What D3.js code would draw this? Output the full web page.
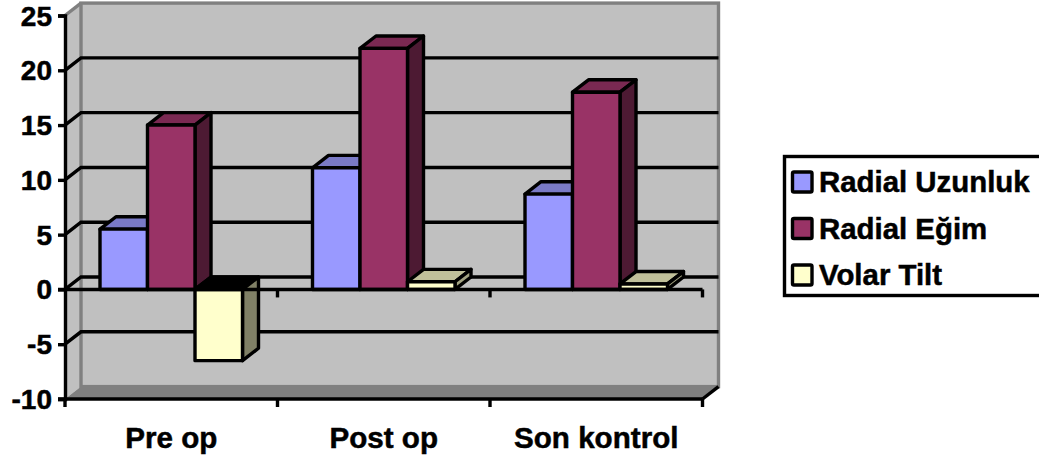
<!DOCTYPE html>
<html>
<head>
<meta charset="utf-8">
<script src="https://cdn.jsdelivr.net/npm/d3@7"></script>
<style>
  html, body { margin: 0; padding: 0; background: #fff; overflow: hidden; }
  svg { display: block; }
  text { font-family: "Liberation Sans", Arial, sans-serif; font-weight: bold; fill: #000; stroke: #000; stroke-width: 0.5px; }
</style>
</head>
<body>
<svg id="chart" width="1039" height="460"></svg>
<script>
// Chart data
const categories = ["Pre op", "Post op", "Son kontrol"];
const seriesNames = ["Radial Uzunluk", "Radial Eğim", "Volar Tilt"];
const radialUzunluk = [5.5, 11.1, 8.7];
const radialEgim = [15, 22, 18];
const volarTilt = [-6.5, 0.7, 0.5];
const yTicks = [-10, -5, 0, 5, 10, 15, 20, 25];

const seriesValues = [radialUzunluk, radialEgim, volarTilt];
const palette = [
  { front: "#9999ff", top: "#7a7ac6", side: "#4d4d80" },
  { front: "#993366", top: "#7a2952", side: "#4d1a33" },
  { front: "#ffffcc", top: "#c0c09a", side: "#a3a382" }
];
const negativeTop = "#000000";
const negativeSide = "#808066";

// Oblique projection of the 3D box
const depthX = 16, depthY = -12.4;
const lineW = 3.4;

const svg = d3.select("#chart");
const x = d3.scaleBand().domain(categories).range([65, 702.5]);
const inner = d3.scaleBand().domain(seriesNames).range([35, 177.5]);
const y = d3.scaleLinear().domain([-10, 25]).range([399, 15.5]);

const poly = pts => pts.map(p => p.join(",")).join(" ");
const x0 = x.range()[0], x1 = x.range()[1];
const yLo = y(-10), yHi = y(25);

// Walls and floor
const walls = svg.append("g");
walls.append("polygon")
  .attr("points", poly([[x0, yHi], [x0 + depthX, yHi + depthY], [x0 + depthX, yLo + depthY], [x0, yLo]]))
  .attr("fill", "#c0c0c0");
walls.append("rect")
  .attr("x", x0 + depthX).attr("y", yHi + depthY)
  .attr("width", x1 - x0).attr("height", yLo - yHi)
  .attr("fill", "#c0c0c0").attr("stroke", "#808080").attr("stroke-width", lineW);
walls.append("polygon")
  .attr("points", poly([[x0, yLo], [x0 + depthX, yLo + depthY], [x1 + depthX, yLo + depthY], [x1, yLo]]))
  .attr("fill", "#808080");
walls.append("line")
  .attr("x1", x0).attr("y1", yHi)
  .attr("x2", x0 + depthX).attr("y2", yHi + depthY)
  .attr("stroke", "#808080").attr("stroke-width", lineW);
walls.append("line")
  .attr("x1", x1).attr("y1", yLo)
  .attr("x2", x1 + depthX).attr("y2", yLo + depthY)
  .attr("stroke", "#000").attr("stroke-width", lineW);

// Gridlines on the back and left walls
const grid = svg.append("g").attr("fill", "none").attr("stroke", "#000").attr("stroke-width", lineW);
grid.selectAll("polyline")
  .data(yTicks.filter(t => t > -10 && t < 25))
  .join("polyline")
  .attr("points", t => poly([[x0, y(t)], [x0 + depthX, y(t) + depthY], [x1 + depthX, y(t) + depthY]]));

// Bars, painted left to right so nearer faces overlap correctly
const bars = svg.append("g").attr("stroke", "#000").attr("stroke-width", lineW).attr("stroke-linejoin", "round");
categories.forEach((cat, c) => {
  seriesNames.forEach((name, s) => {
    const v = seriesValues[s][c];
    const left = x(cat) + inner(name), right = left + inner.bandwidth();
    const yV = y(v), yZ = y(0);
    const yTop = Math.min(yV, yZ), yBot = Math.max(yV, yZ);
    const g = bars.append("g");
    g.append("polygon")
      .attr("points", poly([[left, yTop], [left + depthX, yTop + depthY], [right + depthX, yTop + depthY], [right, yTop]]))
      .attr("fill", v < 0 ? negativeTop : palette[s].top);
    g.append("polygon")
      .attr("points", poly([[right, yTop], [right + depthX, yTop + depthY], [right + depthX, yBot + depthY], [right, yBot]]))
      .attr("fill", v < 0 ? negativeSide : palette[s].side);
    g.append("rect")
      .attr("x", left).attr("y", yTop)
      .attr("width", right - left).attr("height", yBot - yTop)
      .attr("fill", palette[s].front);
  });
});

// Value axis
const yAxis = svg.append("g")
  .attr("transform", `translate(${x0},0)`)
  .call(d3.axisLeft(y).tickValues(yTicks).tickSize(7).tickPadding(6).tickFormat(t => String(t)));
yAxis.selectAll("path, line").attr("stroke", "#000").attr("stroke-width", lineW);
yAxis.selectAll("text").attr("font-size", 28).attr("font-family", null).attr("dy", "0.34em");

// Category axis: one line on the floor edge, one along zero, ticks between bands
const edges = [x0, ...categories.map(c => x(c) + x.bandwidth())];
[y(-10), y(0)].forEach(yy => {
  const ax = svg.append("g").attr("stroke", "#000").attr("stroke-width", lineW);
  ax.append("line").attr("x1", x0 - 7).attr("x2", x1).attr("y1", yy).attr("y2", yy);
  ax.selectAll("line.tick").data(yy === y(-10) ? edges : edges.slice(1)).join("line").attr("class", "tick")
    .attr("x1", d => d).attr("x2", d => d).attr("y1", yy).attr("y2", yy + 8);
});
const xAxis = svg.append("g")
  .attr("transform", `translate(0,${y(-10)})`)
  .call(d3.axisBottom(x).tickSize(0).tickPadding(28));
xAxis.select("path").remove();
xAxis.selectAll("text").attr("font-size", 29.6).attr("font-family", null);

// Legend
const legend = svg.append("g");
legend.append("rect")
  .attr("x", 784.5).attr("y", 156.5).attr("width", 270).attr("height", 139)
  .attr("fill", "#fff").attr("stroke", "#000").attr("stroke-width", lineW);
const legendRow = d3.scalePoint().domain(seriesNames).range([182, 275]);
seriesNames.forEach((name, s) => {
  legend.append("rect")
    .attr("x", 792.5).attr("y", legendRow(name) - 10)
    .attr("width", 19.5).attr("height", 20).attr("rx", 1.5)
    .attr("fill", palette[s].front).attr("stroke", "#000").attr("stroke-width", lineW);
  legend.append("text")
    .attr("x", 819).attr("y", legendRow(name) + 10)
    .attr("font-size", 29.4).text(name);
});
</script>
</body>
</html>
